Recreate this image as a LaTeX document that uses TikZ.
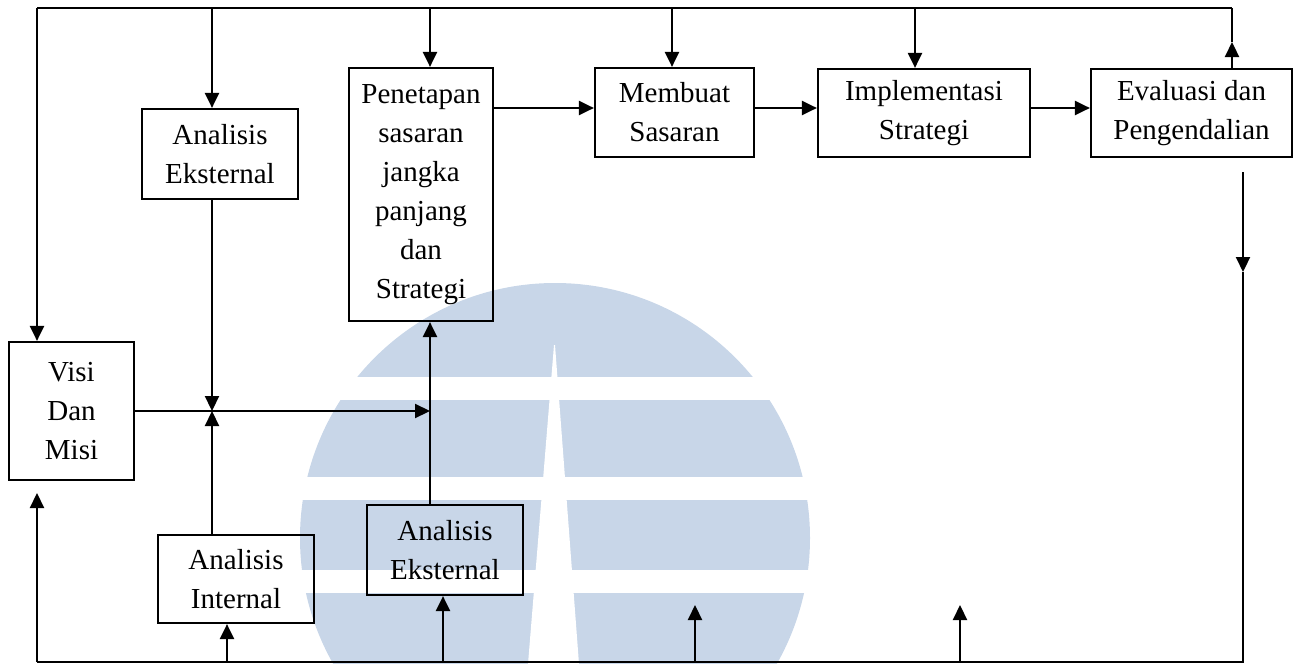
\documentclass[tikz,border=0pt]{standalone}
\usepackage{fontspec}
\setmainfont{Liberation Serif}
\usetikzlibrary{arrows.meta}
\definecolor{wmblue}{RGB}{200,214,232}
\begin{document}
\begin{tikzpicture}[x=1pt,y=-1pt,
  box/.style={draw, line width=2.2pt, inner sep=0pt, align=center,
              font=\fontsize{29}{39}\selectfont},
  link/.style={line width=2.2pt},
  arr/.style={link, -{Triangle[length=15pt,width=14pt]}},
]
\useasboundingbox (0,0) rectangle (1296,664);

% background emblem
\begin{scope}
  \clip (0,0) rectangle (1296,664);
  \fill[wmblue] (555,538) circle[radius=255];
  \fill[white] (200,377) rectangle (900,400);
  \fill[white] (200,477) rectangle (900,500);
  \fill[white] (200,570) rectangle (900,593);
  \fill[white] (554,345) -- (555,345) -- (579,664) -- (528,664) -- cycle;
\end{scope}

% boxes
\node[box, minimum width=156pt, minimum height=90pt]  (ekstA)  at (220,154)    {Analisis\\Eksternal};
\node[box, minimum width=144pt, minimum height=253pt] (penet)  at (421,194.5)  {Penetapan\\sasaran\\jangka\\panjang\\dan\\Strategi};
\node[box, minimum width=159pt, minimum height=89pt]  (buat)   at (674.5,112.5){Membuat\\Sasaran};
\node[box, minimum width=212pt, minimum height=88pt]  (impl)   at (924,113)    {Implementasi\\Strategi};
\node[box, minimum width=201pt, minimum height=88pt]  (eval)   at (1191.5,113) {Evaluasi dan\\Pengendalian};
\node[box, minimum width=125pt, minimum height=138pt] (visi)   at (71.5,411)   {Visi\\Dan\\Misi};
\node[box, minimum width=156pt, minimum height=88pt]  (intern) at (236,579)    {Analisis\\Internal};
\node[box, minimum width=156pt, minimum height=90pt]  (ekstB)  at (445,550)    {Analisis\\Eksternal};

% top feedback bus
\coordinate (tl) at (37,8);
\coordinate (tr) at (1232,8);
\coordinate (ta) at (212,8);
\coordinate (tb) at (430,8);
\coordinate (tc) at (672,8);
\coordinate (td) at (915,8);
\coordinate (eu) at (1232,42);
\draw[link] (tl) -- (tr);
\draw[arr] (tl) -- (visi.north -| tl);
\draw[arr] (ta) -- (ta |- ekstA.north);
\draw[arr] (tb) -- (tb |- penet.north);
\draw[arr] (tc) -- (tc |- buat.north);
\draw[arr] (td) -- (td |- impl.north);
\draw[arr] (eu |- eval.north) -- (eu);
\draw[link] (eu) -- (tr);

% main process chain
\coordinate (row) at (0,108);
\draw[arr] (penet.east |- row) -- (buat.west |- row);
\draw[arr] (buat.east |- row) -- (impl.west |- row);
\draw[arr] (impl.east |- row) -- (eval.west |- row);

% right return line and bottom bus
\coordinate (ra) at (1243,172);
\coordinate (rb) at (1243,272);
\coordinate (br) at (1243,662);
\coordinate (bl) at (37,662);
\draw[arr] (ra) -- (rb);
\draw[link] (rb) -- (br) -- (bl);

\coordinate (vi) at (37,493);
\coordinate (ba) at (227,662);
\coordinate (bb) at (443,662);
\coordinate (bc) at (695,662);
\coordinate (ec) at (695,605);
\coordinate (bd) at (960,662);
\coordinate (ed) at (960,605);
\draw[arr] (bl) -- (vi);
\draw[arr] (ba) -- (ba |- intern.south);
\draw[arr] (bb) -- (bb |- ekstB.south);
\draw[arr] (bc) -- (ec);
\draw[arr] (bd) -- (ed);

% analysis inputs into strategy setting
\coordinate (j) at (212,411);
\coordinate (k) at (430,411);
\draw[arr] (j |- ekstA.south) -- (j);
\draw[arr] (j |- intern.north) -- (j);
\draw[arr] (visi.east |- k) -- (k);
\draw[arr] (k |- ekstB.north) -- (k |- penet.south);
\end{tikzpicture}
\end{document}
